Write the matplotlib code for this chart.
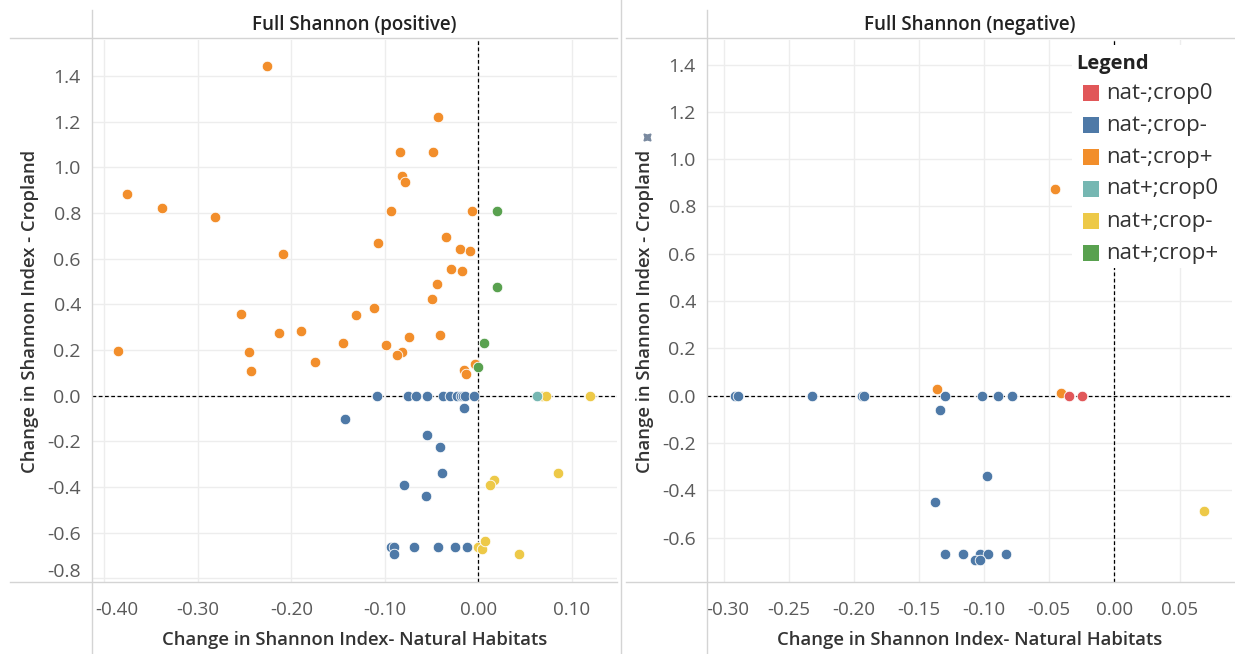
import matplotlib
matplotlib.use("Agg")
import matplotlib.pyplot as plt
from matplotlib.lines import Line2D
from matplotlib.patches import Rectangle
from matplotlib.transforms import ScaledTranslation

plt.rcParams['font.family'] = ['Open Sans', 'DejaVu Sans']

# ---------------- data ----------------
categories = ["nat-;crop0", "nat-;crop-", "nat-;crop+", "nat+;crop0", "nat+;crop-", "nat+;crop+"]
colors = ["#E15759", "#4E79A7", "#F28E2B", "#76B7B2", "#EDC948", "#59A14F"]

# Left panel: Full Shannon (positive)
pos_orange_x = [-0.226, -0.043, -0.084, -0.048, -0.082, -0.078, -0.376, -0.338, -0.282, -0.093,
                -0.007, -0.035, -0.107, -0.209, -0.020, -0.009, -0.029, -0.017, -0.044, -0.049,
                -0.254, -0.112, -0.131, -0.041, -0.213, -0.190, -0.074, -0.145, -0.099, -0.082,
                -0.087, -0.245, -0.175, -0.385, -0.243, -0.004, -0.015, -0.013]
pos_orange_y = [1.443, 1.219, 1.068, 1.068, 0.964, 0.938, 0.882, 0.822, 0.783, 0.811,
                 0.811, 0.695, 0.669, 0.622, 0.643, 0.635, 0.555, 0.547, 0.489, 0.425,
                 0.358, 0.382, 0.352, 0.268, 0.273, 0.282, 0.257, 0.231, 0.223, 0.193,
                 0.177, 0.193, 0.146, 0.197, 0.108, 0.140, 0.111, 0.096]
pos_green_x = [0.020, 0.020, 0.006, 0.000]
pos_green_y = [0.807, 0.474, 0.231, 0.127]
pos_blue_x = [-0.108, -0.075, -0.067, -0.055, -0.038, -0.030, -0.023, -0.019, -0.016, -0.014,
              -0.005, -0.015, -0.143, -0.055, -0.041, -0.039, -0.079, -0.056, -0.093, -0.090,
              -0.090, -0.069, -0.043, -0.025, -0.012]
pos_blue_y = [0.0, 0.0, 0.0, 0.0, 0.0, 0.0, 0.0, 0.0, 0.0, 0.0,
              0.0, -0.054, -0.102, -0.170, -0.225, -0.337, -0.389, -0.439, -0.661, -0.661,
              -0.692, -0.661, -0.661, -0.661, -0.661]
pos_teal_x = [0.063]
pos_teal_y = [0.0]
pos_yellow_x = [0.068, 0.072, 0.119, 0.085, 0.017, 0.013, 0.000, 0.004, 0.007, 0.044]
pos_yellow_y = [0.0, 0.0, 0.0, -0.338, -0.368, -0.393, -0.661, -0.671, -0.636, -0.692]

# Right panel: Full Shannon (negative)
neg_blue_x = [-0.291, -0.289, -0.232, -0.194, -0.192, -0.130, -0.102, -0.089, -0.079,
              -0.134, -0.098, -0.138, -0.130, -0.116, -0.103, -0.097, -0.083, -0.107, -0.103]
neg_blue_y = [0.0, 0.0, 0.0, 0.0, 0.0, 0.0, 0.0, 0.0, 0.0,
              -0.061, -0.340, -0.449, -0.669, -0.669, -0.669, -0.669, -0.669, -0.696, -0.696]
neg_orange_x = [-0.136, -0.041, -0.046]
neg_orange_y = [0.027, 0.010, 0.874]
neg_red_x = [-0.035, -0.025]
neg_red_y = [0.0, 0.0]
neg_yellow_x = [0.069]
neg_yellow_y = [-0.488]

x_ticks_left = [-0.40, -0.30, -0.20, -0.10, 0.00, 0.10]
x_ticks_right = [-0.30, -0.25, -0.20, -0.15, -0.10, -0.05, 0.00, 0.05]
y_ticks_left = [1.4, 1.2, 1.0, 0.8, 0.6, 0.4, 0.2, 0.0, -0.2, -0.4, -0.6, -0.8]
y_ticks_right = [1.4, 1.2, 1.0, 0.8, 0.6, 0.4, 0.2, 0.0, -0.2, -0.4, -0.6]

# ---------------- figure ----------------
W, H = 1235, 654
fig = plt.figure(figsize=(W / 100, H / 100), dpi=100)

def fx(px):
    return px / W

def fy(py):
    return 1 - py / H

axL = fig.add_axes([fx(92), fy(582), fx(617) - fx(92), fy(40) - fy(582)])
axR = fig.add_axes([fx(707), fy(582), fx(1232) - fx(707), fy(40) - fy(582)])

tick_color = "#5a5a5a"
label_color = "#333333"
grid_color = "#ededed"

def shift(lbl, dx_px, dy_px):
    lbl.set_transform(lbl.get_transform() +
                      ScaledTranslation(dx_px / 100, dy_px / 100, fig.dpi_scale_trans))

def style(ax, xticks, yticks, xlim, ylim, title):
    ax.set_xlim(*xlim)
    ax.set_ylim(*ylim)
    ax.set_xticks(xticks)
    ax.set_yticks(yticks)
    ax.set_xticklabels([f"{v:.2f}" for v in xticks])
    ax.set_yticklabels([f"{v:.1f}" for v in yticks])
    ax.tick_params(axis='both', length=0, colors=tick_color)
    ax.tick_params(axis='x', pad=14, labelsize=13.5)
    ax.tick_params(axis='y', pad=8, labelsize=14)
    ax.grid(True, color=grid_color, linewidth=1.0, zorder=0)
    ax.set_axisbelow(True)
    for s in ax.spines.values():
        s.set_visible(False)
    ax.axhline(0, color="black", linestyle=(0, (3, 2)), linewidth=0.9, zorder=1)
    ax.axvline(0, color="black", linestyle=(0, (3, 2)), linewidth=0.9, zorder=1)
    ax.set_xlabel("Change in Shannon Index- Natural Habitats", fontsize=13.3,
                  fontweight='semibold', color=label_color, labelpad=8)
    ax.set_ylabel("Change in Shannon Index - Cropland", fontsize=13.3,
                  fontweight='semibold', color=label_color, labelpad=6)
    ax.set_title(title, fontsize=13.5, color="#222222", fontweight='semibold', pad=7)

style(axL, x_ticks_left, y_ticks_left, (-0.4133, 0.1484), (-0.816, 1.558), "Full Shannon (positive)")
style(axR, x_ticks_right, y_ticks_right, (-0.3127, 0.0902), (-0.788, 1.504), "Full Shannon (negative)")

# keep edge labels inside panes (Tableau-like)
shift(axL.get_xticklabels()[0], 12, 0)
shift(axL.get_yticklabels()[-1], 0, 8)
shift(axR.get_xticklabels()[0], 4, 0)

mk = dict(s=58, edgecolors="white", linewidths=0.6, zorder=3)
axL.scatter(pos_orange_x, pos_orange_y, color=colors[2], **mk)
axL.scatter(pos_green_x, pos_green_y, color=colors[5], **mk)
axL.scatter(pos_blue_x, pos_blue_y, color=colors[1], **mk)
axL.scatter(pos_yellow_x, pos_yellow_y, color=colors[4], **mk)
axL.scatter(pos_teal_x, pos_teal_y, color=colors[3], **mk)

axR.scatter(neg_blue_x, neg_blue_y, color=colors[1], **mk)
axR.scatter(neg_orange_x, neg_orange_y, color=colors[2], **mk)
axR.scatter(neg_red_x, neg_red_y, color=colors[0], **mk)
axR.scatter(neg_yellow_x, neg_yellow_y, color=colors[4], **mk)

# structural lines (Tableau-like panes)
line_c = "#d4d4d4"
for (x0, y0, x1, y1) in [(10, 38, 617, 38), (626, 38, 1235, 38),
                         (10, 582, 617, 582), (626, 582, 1235, 582),
                         (92, 10, 92, 654), (707, 10, 707, 654),
                         (621, 0, 621, 654)]:
    fig.add_artist(Line2D([fx(x0), fx(x1)], [fy(y0), fy(y1)], color=line_c, linewidth=1.0))

# small pin icon next to right y-axis title
fig.add_artist(Line2D([fx(647)], [fy(137)], marker=(4, 1, 45), markersize=7,
                      color="#7a8aa0", linestyle="none"))

# legend box (manual)
fig.add_artist(Rectangle((fx(1072), fy(268)), fx(1232) - fx(1072), fy(45) - fy(268),
                         facecolor="white", edgecolor="none", zorder=5))
fig.text(fx(1076), fy(64), "Legend", fontsize=14.5, fontweight='bold', color="#222222",
         va='center', ha='left', zorder=6)
for i, (cat, col) in enumerate(zip(categories, colors)):
    yc = 93 + i * 32
    fig.add_artist(Rectangle((fx(1083), fy(yc + 8)), fx(16), 16 / H,
                             facecolor=col, edgecolor="none", zorder=6))
    fig.text(fx(1106), fy(yc), cat, fontsize=16, color="#333333",
             va='center', ha='left', zorder=6)

fig.savefig("out.png", dpi=100)
